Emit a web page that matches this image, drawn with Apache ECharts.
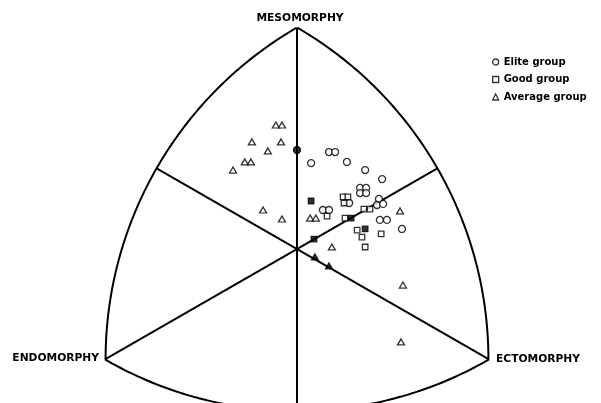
<!DOCTYPE html>
<html><head><meta charset="utf-8">
<script src="https://cdn.jsdelivr.net/npm/echarts@6/dist/echarts.min.js"></script>
<style>html,body{margin:0;padding:0;background:#fff}#c{width:601px;height:403px}</style>
</head><body><div id="c"></div>
<script>
// Somatochart coordinates: X = ecto - endo, Y = 2*meso - endo - ecto
const groupNames = ['Elite group', 'Good group', 'Average group'];
const vertexLabels = ['MESOMORPHY', 'ENDOMORPHY', 'ECTOMORPHY'];
const vertices = [[0, 12], [-6, -6], [6, -6]];
const center = [0, 0];

const elite = [
  [1.00, 5.27], [1.19, 5.27], [0.44, 4.67], [1.56, 4.73], [2.13, 4.29],
  [2.66, 3.80], [1.97, 3.32], [2.16, 3.32], [1.97, 3.04], [2.16, 3.04],
  [2.56, 2.72], [2.50, 2.39], [2.69, 2.45], [1.63, 2.50], [0.81, 2.12],
  [1.00, 2.12], [2.59, 1.58], [2.81, 1.58], [3.28, 1.09], [0.00, 5.38]
];
const good = [
  [0.44, 2.61], [1.44, 2.83], [1.59, 2.83], [1.47, 2.50], [0.94, 1.79],
  [1.50, 1.68], [1.69, 1.68], [2.09, 2.17], [2.28, 2.17], [1.88, 1.03],
  [2.13, 1.09], [2.03, 0.65], [2.63, 0.82], [2.13, 0.11], [0.53, 0.54]
];
const average = [
  [-0.66, 6.74], [-0.47, 6.74], [-1.41, 5.82], [-0.50, 5.82], [-0.91, 5.33],
  [-1.63, 4.73], [-1.44, 4.73], [-2.00, 4.29], [-1.06, 2.12], [-0.47, 1.63],
  [0.41, 1.68], [0.59, 1.68], [3.22, 2.07], [1.09, 0.11], [0.56, -0.43],
  [1.00, -0.92], [3.31, -1.96], [3.25, -5.05]
];
// indices of marks that print solid (overlapping marks / on the lines)
const eliteSolid = [19];
const goodSolid = [0, 6, 10, 14];
const averageSolid = [14, 15];

function dist(a, b) { return Math.hypot(a[0] - b[0], a[1] - b[1]); }

function renderFrame(params, api) {
  const T = api.coord(vertices[0]), L = api.coord(vertices[1]), R = api.coord(vertices[2]);
  const C = api.coord(center);
  const line = { stroke: '#000', lineWidth: 2, fill: null, lineJoin: 'round' };
  const children = [];
  function arc(c, p1, p2) {
    const r = (dist(c, p1) + dist(c, p2)) / 2;
    const a1 = Math.atan2(p1[1] - c[1], p1[0] - c[0]);
    const a2 = Math.atan2(p2[1] - c[1], p2[0] - c[0]);
    let d = a2 - a1;
    while (d > Math.PI) d -= 2 * Math.PI;
    while (d < -Math.PI) d += 2 * Math.PI;
    const pts = [];
    const n = 90;
    for (let i = 0; i <= n; i++) {
      const a = a1 + d * i / n;
      pts.push([c[0] + r * Math.cos(a), c[1] + r * Math.sin(a)]);
    }
    return { type: 'polyline', shape: { points: pts }, style: line };
  }
  function spoke(v, o1, o2) {
    const r = (dist(v, o1) + dist(v, o2)) / 2;
    const len = dist(v, C);
    const e = [v[0] + r * (C[0] - v[0]) / len, v[1] + r * (C[1] - v[1]) / len];
    return { type: 'line', shape: { x1: v[0], y1: v[1], x2: e[0], y2: e[1] }, style: line };
  }
  children.push(arc(R, T, L));
  children.push(arc(L, R, T));
  children.push(arc(T, L, R));
  children.push(spoke(T, L, R));
  children.push(spoke(L, T, R));
  children.push(spoke(R, T, L));
  const font = { fontFamily: 'DejaVu Sans', fontWeight: 'bold', fontSize: 10.7, fill: '#000' };
  children.push({ type: 'text', style: Object.assign({ text: vertexLabels[0], x: T[0] + 3, y: T[1] - 10, align: 'center', verticalAlign: 'middle' }, font) });
  children.push({ type: 'text', style: Object.assign({ text: vertexLabels[1], x: L[0] - 6, y: L[1] - 1, align: 'right', verticalAlign: 'middle' }, font) });
  children.push({ type: 'text', style: Object.assign({ text: vertexLabels[2], x: R[0] + 7, y: R[1], align: 'left', verticalAlign: 'middle' }, font) });
  return { type: 'group', children: children };
}

function items(pts, solid) {
  return pts.map((p, i) => solid.indexOf(i) >= 0 ? { value: p, itemStyle: { color: '#000' } } : p);
}

const markStyle = { color: '#fff', borderColor: '#000', borderWidth: 1.3 };

const chart = echarts.init(document.getElementById('c'), null, { renderer: 'canvas' });
chart.setOption({
  animation: false,
  backgroundColor: '#fff',
  grid: { left: 9, right: 16, top: 9.8, bottom: 6.8 },
  xAxis: { type: 'value', min: -9, max: 9, show: false },
  yAxis: { type: 'value', min: -8, max: 13, show: false },
  legend: {
    orient: 'vertical', left: 487, top: 51,
    itemWidth: 6, itemHeight: 6, itemGap: 5.5,
    textStyle: { fontFamily: 'DejaVu Sans', fontWeight: 'bold', fontSize: 10, color: '#000', lineHeight: 12 },
    itemStyle: { color: '#fff', borderColor: '#000', borderWidth: 1.3 },
    data: [
      { name: groupNames[0], icon: 'circle' },
      { name: groupNames[1], icon: 'rect' },
      { name: groupNames[2], icon: 'triangle' }
    ]
  },
  series: [
    { type: 'custom', name: 'frame', renderItem: renderFrame, data: [[0, 0]], silent: true, z: 1 },
    { type: 'scatter', name: groupNames[0], symbol: 'circle', symbolSize: 7, data: items(elite, eliteSolid), itemStyle: markStyle, z: 3 },
    { type: 'scatter', name: groupNames[1], symbol: 'rect', symbolSize: 5.5, data: items(good, goodSolid), itemStyle: markStyle, z: 3 },
    { type: 'scatter', name: groupNames[2], symbol: 'triangle', symbolSize: [7, 6], data: items(average, averageSolid), itemStyle: markStyle, z: 3 }
  ]
});
</script></body></html>
